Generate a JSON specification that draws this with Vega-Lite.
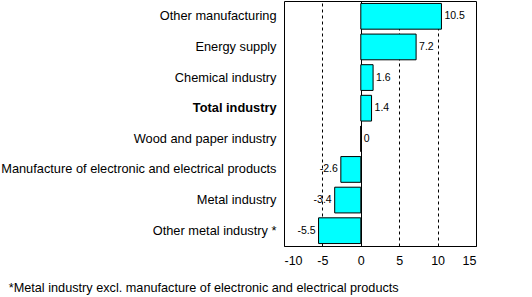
{
  "$schema": "https://vega.github.io/schema/vega-lite/v6.json",
  "autosize": "none",
  "width": 192,
  "height": 245,
  "padding": {"left": 284, "top": 1, "right": 56, "bottom": 51},
  "background": "white",
  "title": {
    "text": "*Metal industry excl. manufacture of electronic and electrical products",
    "orient": "bottom",
    "anchor": "start",
    "frame": "bounds",
    "offset": 15,
    "dx": 8,
    "font": "Liberation Sans",
    "fontSize": 12.7,
    "fontWeight": "normal",
    "color": "black"
  },
  "data": {
    "values": [
      {"category": "Other manufacturing", "value": 10.5},
      {"category": "Energy supply", "value": 7.2},
      {"category": "Chemical industry", "value": 1.6},
      {"category": "Total industry", "value": 1.4},
      {"category": "Wood and paper industry", "value": 0},
      {"category": "Manufacture of electronic and electrical products", "value": -2.6},
      {"category": "Metal industry", "value": -3.4},
      {"category": "Other metal industry *", "value": -5.5}
    ]
  },
  "encoding": {
    "y": {
      "field": "category",
      "type": "nominal",
      "sort": null,
      "scale": {"paddingInner": 0.16, "paddingOuter": 0.08},
      "axis": {
        "title": null,
        "domain": false,
        "ticks": false,
        "grid": false,
        "labelPadding": 8,
        "labelFont": "Liberation Sans",
        "labelFontSize": 12.8,
        "labelColor": "black",
        "labelLimit": 400,
        "labelFontWeight": {"condition": {"test": "datum.value == 'Total industry'", "value": "bold"}, "value": "normal"}
      }
    },
    "x": {
      "field": "value",
      "type": "quantitative",
      "scale": {"domain": [-10, 15], "nice": false},
      "axis": {
        "title": null,
        "values": [-10, -5, 0, 5, 10, 15],
        "domain": false,
        "ticks": false,
        "labelPadding": 8,
        "labelFont": "Liberation Sans",
        "labelFontSize": 12.5,
        "labelColor": "black",
        "grid": true,
        "gridColor": "black",
        "gridOpacity": 1,
        "gridWidth": 1,
        "gridDash": {"condition": {"test": "datum.value == 0", "value": []}, "value": [3, 3]}
      }
    }
  },
  "layer": [
    {
      "mark": {"type": "bar", "fill": "#00FFFF", "stroke": "black", "strokeWidth": 1}
    },
    {
      "transform": [{"filter": "datum.value >= 0"}],
      "mark": {"type": "text", "align": "left", "dx": 3, "font": "Liberation Sans", "fontSize": 10.5, "color": "black"},
      "encoding": {"text": {"field": "value", "type": "quantitative"}}
    },
    {
      "transform": [{"filter": "datum.value < 0"}],
      "mark": {"type": "text", "align": "right", "dx": -3, "font": "Liberation Sans", "fontSize": 10.5, "color": "black"},
      "encoding": {"text": {"field": "value", "type": "quantitative"}}
    }
  ],
  "config": {
    "view": {"stroke": "black", "strokeWidth": 1},
    "locale": {
      "number": {
        "decimal": ".",
        "thousands": ",",
        "grouping": [3],
        "currency": ["$", ""],
        "minus": "-"
      }
    }
  }
}
